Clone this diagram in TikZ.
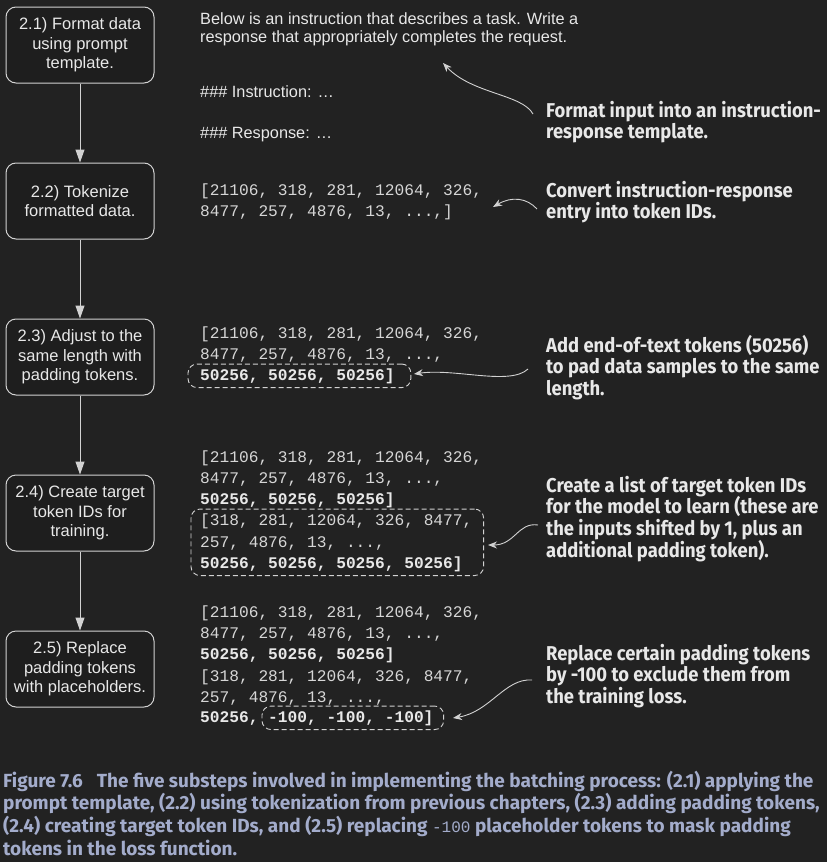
\documentclass[tikz,border=0pt]{standalone}
\usepackage{fontspec}
\setmainfont{Liberation Sans}
\setmonofont{Liberation Mono}
\newfontfamily\notefont[FakeStretch=0.92]{Fira Sans}
\newfontfamily\capfont{Fira Sans}
\usepackage{tikz}
\usetikzlibrary{arrows.meta}
\usetikzlibrary{positioning}
\usetikzlibrary{fit}
\definecolor{bgdark}{HTML}{222222}
\definecolor{boxfill}{HTML}{1E1E1E}
\definecolor{linegrey}{HTML}{D2D2D2}
\definecolor{textgrey}{HTML}{E8E8E8}
\definecolor{codegrey}{HTML}{D6D6D6}
\definecolor{capblue}{HTML}{A3ACCB}
\tikzstyle{stepbox}=[draw=linegrey,fill=boxfill,rounded corners=10pt,line width=1pt,minimum width=148pt,minimum height=76pt,align=center,text=textgrey,font=\fontsize{16.5}{19.7}\selectfont]
\tikzstyle{plain}=[inner sep=0pt,anchor=base west,align=left,text=textgrey,font=\fontsize{16.3}{18.5}\selectfont]
\tikzstyle{code}=[inner sep=0pt,anchor=base west,text=codegrey,font=\ttfamily\fontsize{16.2}{21}\selectfont]
\tikzstyle{codebold}=[code,text=textgrey,font=\ttfamily\bfseries\fontsize{16.2}{21}\selectfont]
\tikzstyle{note}=[inner sep=0pt,anchor=base west,align=left,text=textgrey,font=\notefont\bfseries\fontsize{20}{21.7}\selectfont]
\tikzstyle{dashbox}=[draw=linegrey,line width=0.9pt,dash pattern=on 5pt off 3pt,rounded corners=9pt]
\tikzstyle{flow}=[draw=linegrey,line width=1pt,-{Triangle[length=13pt,width=9pt]}]
\tikzstyle{pointer}=[draw=linegrey,line width=0.9pt,-{Stealth[length=9pt,width=7pt]}]

\begin{document}
\begin{tikzpicture}[x=1pt,y=-1pt]
\fill[bgdark] (0,0) rectangle (827,862);
\useasboundingbox (0,0) rectangle (827,862);

% substeps
\node [stepbox] (s1) at (80,45) {2.1) Format data\\using prompt\\template.};
\node [stepbox,below=79pt of s1] (s2) {2.2) Tokenize\\formatted data.};
\node [stepbox,below=79pt of s2] (s3) {2.3) Adjust to the\\same length with\\padding tokens.};
\node [stepbox,below=79pt of s3] (s4) {2.4) Create target\\token IDs for\\training.};
\node [stepbox,below=79pt of s4] (s5) {2.5) Replace\\padding tokens\\with placeholders.};
\draw [flow] (s1) -- (s2);
\draw [flow] (s2) -- (s3);
\draw [flow] (s3) -- (s4);
\draw [flow] (s4) -- (s5);

% template (base = last line)
\node [plain] (tpl) at (200,42.5)
  {Below is an instruction that describes a task. Write a\\response that appropriately completes the request.};
\node [plain] (ins) at (200,97) {\#\#\# Instruction: \ldots};
\node [plain] (res) at (200,138) {\#\#\# Response: \ldots};

% token ids
\node [code] (b2a) at (200,195) {[21106, 318, 281, 12064, 326,};
\node [code] (b2b) at (200,216) {8477, 257, 4876, 13, ...,]};

\node [code] (b3a) at (200,338) {[21106, 318, 281, 12064, 326,};
\node [code] (b3b) at (200,359) {8477, 257, 4876, 13, ...,};
\node [codebold] (b3c) at (200,380) {50256, 50256, 50256]};

\node [code] (b4a) at (200,462) {[21106, 318, 281, 12064, 326,};
\node [code] (b4b) at (200,483) {8477, 257, 4876, 13, ...,};
\node [codebold] (b4c) at (200,504) {50256, 50256, 50256]};
\node [code] (b4d) at (200,525) {[318, 281, 12064, 326, 8477,};
\node [code] (b4e) at (200,547) {257, 4876, 13, ...,};
\node [codebold] (b4f) at (200,568) {50256, 50256, 50256, 50256]};

\node [code] (b5a) at (200,617) {[21106, 318, 281, 12064, 326,};
\node [code] (b5b) at (200,638) {8477, 257, 4876, 13, ...,};
\node [codebold] (b5c) at (200,659) {50256, 50256, 50256]};
\node [code] (b5d) at (200,681) {[318, 281, 12064, 326, 8477,};
\node [code] (b5e) at (200,702) {257, 4876, 13, ...,};
\node [codebold] (b5f) at (200,722) {50256,};
\node [codebold] (b5g) at (268,722) {-100, -100, -100]};

\node [dashbox,fit=(b3c),inner xsep=14pt,inner ysep=4pt,xshift=2pt] (d3) {};
\node [dashbox,fit=(b4d)(b4f),inner xsep=10pt,inner ysep=4pt,xshift=1pt] (d4) {};
\node [dashbox,fit=(b5g),inner xsep=8pt,inner ysep=4pt,xshift=2pt] (d5) {};

% notes (base = last line)
\node [note] (n1) at (546,138.7) {Format input into an instruction-\\response template.};
\node [note] (n2) at (546,218.7) {Convert instruction-response\\entry into token IDs.};
\node [note] (n3) at (546,395.4) {Add end-of-text tokens (50256)\\to pad data samples to the same\\length.};
\node [note] (n4) at (546,557.1) {Create a list of target token IDs\\for the model to learn (these are\\the inputs shifted by 1, plus an\\additional padding token).};
\node [note] (n5) at (546,703.4) {Replace certain padding tokens\\by -100 to exclude them from\\the training loss.};

\coordinate (p1) at (533,114);
\coordinate (q1) at (443,63);
\coordinate (p2) at (537,209);
\coordinate (q2) at (493,207);
\coordinate (p3) at (528,369);
\coordinate (q3) at (414,374);
\coordinate (p4) at (538,525);
\coordinate (q4) at (488,545);
\coordinate (p5) at (532,680);
\coordinate (q5) at (453,718);
\draw [pointer] (p1) .. controls (522,94) and (472,94) .. (q1);
\draw [pointer] (p2) .. controls (527,198) and (512,196) .. (q2);
\draw [pointer] (p3) .. controls (510,386) and (455,368) .. (q3);
\draw [pointer] (p4) .. controls (518,522) and (515,545) .. (q4);
\draw [pointer] (p5) .. controls (505,678) and (490,712) .. (q5);

% caption (base = last line)
\node [inner sep=0pt,anchor=base west,align=left,text=capblue,font=\capfont\bfseries\fontsize{19}{22.8}\selectfont] (cap) at (3,855.4)
  {Figure 7.6\hspace{14pt}The five substeps involved in implementing the batching process: (2.1) applying the\\
   prompt template, (2.2) using tokenization from previous chapters, (2.3) adding padding tokens,\\
   (2.4) creating target token IDs, and (2.5) replacing {\mdseries\ttfamily\fontsize{16}{22.8}\selectfont -100} placeholder tokens to mask padding\\
   tokens in the loss function.};
\end{tikzpicture}
\end{document}
